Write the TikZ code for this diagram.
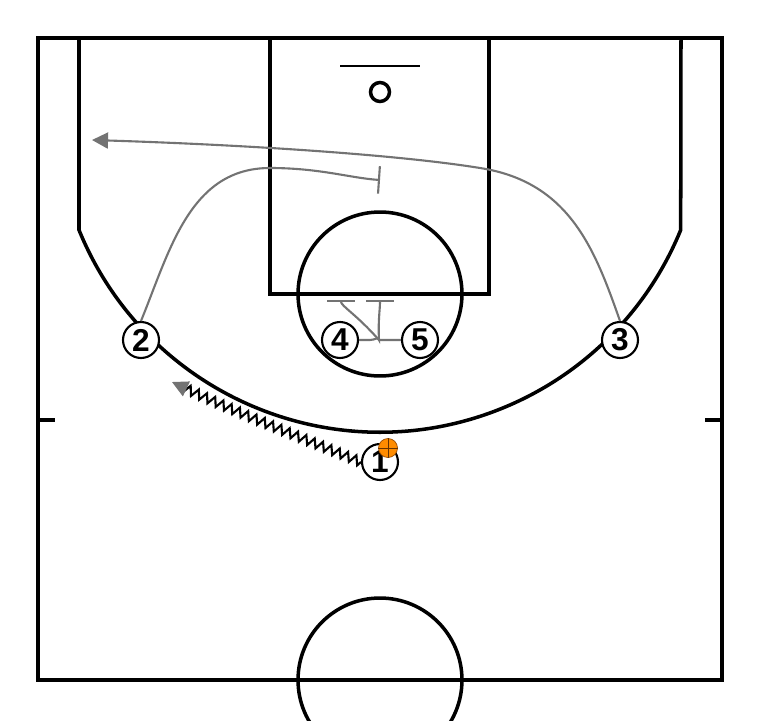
\documentclass[tikz,border=0pt]{standalone}
\usepackage{fontspec}
\setsansfont{Liberation Sans}
\usepackage{tikz}
\usetikzlibrary{arrows.meta,decorations.pathmorphing}

\begin{document}
\begin{tikzpicture}[x=0.02cm, y=-0.02cm,
	court/.style = {draw, line width=2pt},
	main/.style = {draw, circle, fill=white, line width=1.2pt, minimum size=0.72cm, inner sep=0pt, font=\sffamily\bfseries\fontsize{18}{18}\selectfont},
	cut/.style = {draw=black!55, line width=1.2pt},
	screen/.style = {cut, -{Bar[width=5.5mm]}}]
	\clip (0,0) rectangle (760,720);
	% court
	\draw[court] (38,38) rectangle (722,680);
	\draw[court] (270,38) rectangle (489,294);
	\draw[court] (380,294) circle[radius=1.64cm];
	\draw[court] (380,680) circle[radius=1.64cm];
	\draw[court] (79,38) -- (79,230) arc[start angle=202.2, end angle=337.8, radius=6.5cm] -- (681,38);
	\draw[court] (38,420) -- (55,420);
	\draw[court] (705,420) -- (722,420);
	\draw[line width=1.2pt] (340,66) -- (420,66);
	\draw[line width=2pt] (380,92) circle[radius=0.19cm];
	% players
	\node[main] (2) at (141,340) {2};
	\node[main] (3) at (620,340) {3};
	\node[main] (4) at (340,340) {4};
	\node[main] (5) at (420,340) {5};
	\node[main] (1) at (380,462) {1};
	\coordinate (j) at (379,340);
	\coordinate (s4) at (380,300);
	\coordinate (s5) at (341,300);
	\coordinate (s2) at (380,180);
	\coordinate (c3) at (92,140);
	\coordinate (d1) at (172,382);
	% screens
	\draw[screen] (4.east) -- (370,340) .. controls (376,340) and (378,336) .. (j) .. controls (378,320) and (380,310) .. (s4);
	\draw[screen] (5.west) -- (j) .. controls (356,314) and (341,306) .. (s5);
	\draw[screen] (2.north) .. controls (170,250) and (190,168) .. (270,168) .. controls (320,168) and (350,178) .. (s2);
	% cut
	\draw[cut, -{Triangle[width=3.2mm,length=3.2mm]}] (3.north) .. controls (595,250) and (570,182) .. (480,168) .. controls (400,155) and (250,145) .. (c3);
	% dribble
	\draw[line width=1.2pt, decorate, decoration={zigzag, segment length=1.8mm, amplitude=0.9mm, post=lineto, post length=1.5mm}, -{Triangle[color=black!55,width=3.2mm,length=3.2mm]}] (1.west) .. controls (300,437) and (230,410) .. (d1);
	% ball
	\node[circle, fill=orange!90!yellow, draw=orange!60!black, line width=0.4pt, minimum size=0.38cm, inner sep=0pt] (ball) at (388,448) {};
	\draw[orange!40!black, line width=0.4pt] (ball.north) -- (ball.south) (ball.west) -- (ball.east);
\end{tikzpicture}
\end{document}
